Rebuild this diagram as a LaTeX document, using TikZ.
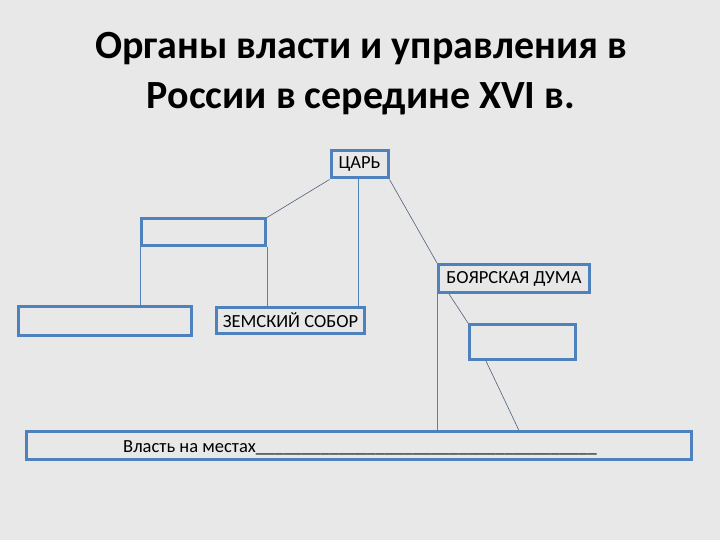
\documentclass[tikz,border=0pt]{standalone}
\usepackage{fontspec}
\setmainfont{Carlito}
\usetikzlibrary{calc}
\definecolor{bg}{RGB}{232,232,232}
\definecolor{boxblue}{RGB}{79,129,189}
\definecolor{linedark}{RGB}{80,95,120}
\tikzset{
  box/.style={draw=boxblue, line width=3pt, inner sep=0pt, font=\fontsize{18.5}{22}\selectfont},
  vline/.style={draw=boxblue, line width=0.9pt},
  dline/.style={draw=linedark, line width=0.6pt},
  ttl/.style={font=\fontsize{40}{48}\selectfont\bfseries, anchor=base}
}
\begin{document}
\begin{tikzpicture}[x=1pt,y=-1pt]
\fill[bg] (0,0) rectangle (720,540);
\useasboundingbox (0,0) rectangle (720,540);
% title
\node[ttl] (t1) at (361,59) {Органы власти и управления в};
\node[ttl] (t2) at (361,109) {России в середине XVI в.};
% boxes
\node[box, minimum width=57pt, minimum height=27pt] (tsar) at (359.5,164.5) {ЦАРЬ};
\node[box, minimum width=151pt, minimum height=28pt] (boyar) at (514,278.5) {БОЯРСКАЯ ДУМА};
\node[box, minimum width=124pt, minimum height=26pt] (emptyA) at (203.5,232) {};
\node[box, minimum width=173pt, minimum height=29pt] (leftB) at (105,321) {};
\node[box, minimum width=148pt, minimum height=26pt] (zemsky) at (290.5,320.5) {ЗЕМСКИЙ СОБОР};
\node[box, minimum width=106pt, minimum height=35pt] (emptyR) at (522.5,342) {};
\node[box, minimum width=665pt, minimum height=28pt] (bottom) at (359.25,445.5) {};
\node[font=\fontsize{18.5}{22}\selectfont, anchor=base west, inner sep=0pt] (btext) at (123,452)
  {Власть на местах\_\_\_\_\_\_\_\_\_\_\_\_\_\_\_\_\_\_\_\_\_\_\_\_\_\_\_\_\_\_\_\_\_\_\_\_\_};
% connectors
\coordinate (tsarmid) at ($(tsar.south)+(-1.5,0)$);
\coordinate (boyarfoot) at ($(boyar.south west)+(12,0)$);
\coordinate (emptyRfoot) at ($(emptyR.south west)+(18,0)$);
\coordinate (bottomtop) at ($(bottom.north west)+(493.5,0)$);
\draw[dline] (tsar.south west) -- (emptyA.north east);
\draw[vline] (tsarmid) -- (tsarmid |- zemsky.north);
\draw[dline] (tsar.south east) -- (boyar.north west);
\draw[vline] (emptyA.south west) -- (emptyA.south west |- leftB.north);
\draw[vline] (emptyA.south east) -- (emptyA.south east |- zemsky.north);
\draw[vline] (boyar.south west) -- (boyar.south west |- bottom.north);
\draw[dline] (boyarfoot) -- (emptyR.north west);
\draw[dline] (emptyRfoot) -- (bottomtop);
\end{tikzpicture}
\end{document}
